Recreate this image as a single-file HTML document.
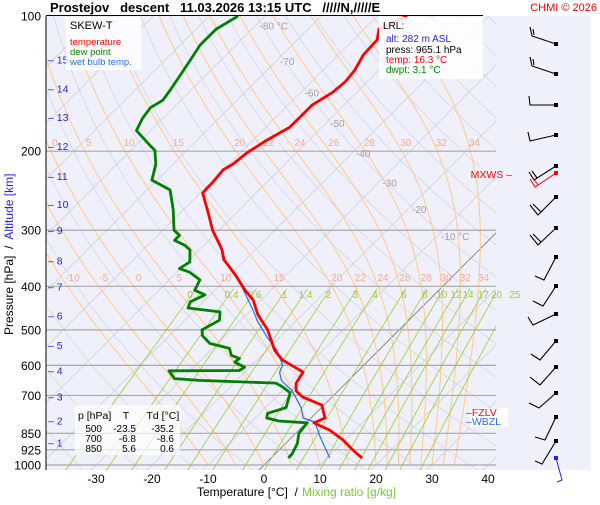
<!DOCTYPE html>
<html><head><meta charset="utf-8"><style>
body{margin:0;background:#fff;width:600px;height:500px;overflow:hidden;font-family:"Liberation Sans",sans-serif}
svg text{font-family:"Liberation Sans",sans-serif}
</style></head><body>
<svg id="chart" width="600" height="500" xmlns="http://www.w3.org/2000/svg">
<rect x="46" y="16" width="545" height="454" fill="#f0f0fb"/>
<defs><clipPath id="clip"><rect x="46" y="16" width="450" height="454"/></clipPath></defs>
<g id="grid" clip-path="url(#clip)"></g>
<g id="labels"></g>
<g id="series" clip-path="url(#clip)"></g>
<g id="barbs"></g>
<line x1="46" y1="16" x2="46" y2="470" stroke="#000"/>
<line x1="46" y1="15.5" x2="483" y2="15.5" stroke="#000"/>
<text x="50" y="12" font-size="13" font-weight="bold">Prostejov&#160;&#160; descent&#160;&#160; 11.03.2026 13:15 UTC&#160;&#160; /////N,/////E</text>
<text x="597" y="11" font-size="11" fill="#e00" text-anchor="end">CHMI © 2026</text>
<g>
<rect x="66" y="17" width="75" height="53" fill="#fff" opacity="0.8"/>
<text x="70" y="29" font-size="11">SKEW-T</text>
<text x="70" y="45" font-size="9.5" fill="#f00">temperature</text>
<text x="70" y="55" font-size="9.5" fill="#080">dew point</text>
<text x="70" y="65" font-size="9.5" fill="#2a6cf0">wet bulb temp.</text>
</g>
<g>
<rect x="379" y="17" width="104" height="62" fill="#fff" opacity="0.85"/>
<text x="383" y="29" font-size="10">LRL:</text>
<text x="386" y="42" font-size="10" fill="#22d">alt: 282 m ASL</text>
<text x="386" y="53" font-size="10">press: 965.1 hPa</text>
<text x="386" y="63" font-size="10" fill="#f00">temp: 16.3 °C</text>
<text x="386" y="73" font-size="10" fill="#080">dwpt: 3.1 °C</text>
</g>
<g>
<rect x="75" y="405" width="105" height="50" fill="#fff" opacity="0.7"/>
<text x="78" y="419" font-size="10.5">p [hPa]&#160;&#160;&#160; T&#160;&#160;&#160;&#160;&#160; Td [°C]</text>
<text x="102" y="432" font-size="10" text-anchor="end">500</text><text x="136" y="432" font-size="10" text-anchor="end">-23.5</text><text x="174" y="432" font-size="10" text-anchor="end">-35.2</text>
<text x="102" y="442" font-size="10" text-anchor="end">700</text><text x="136" y="442" font-size="10" text-anchor="end">-6.8</text><text x="174" y="442" font-size="10" text-anchor="end">-8.6</text>
<text x="102" y="452" font-size="10" text-anchor="end">850</text><text x="136" y="452" font-size="10" text-anchor="end">5.6</text><text x="174" y="452" font-size="10" text-anchor="end">0.6</text>
</g>
<g>
<rect x="470" y="408" width="38" height="19" fill="#fff"/>
<text x="466" y="416" font-size="10.5" fill="#f00">–FZLV</text>
<text x="466" y="425" font-size="10.5" fill="#2a6cf0">–WBZL</text>
</g>
<text x="512" y="178" font-size="10.5" fill="#f00" text-anchor="end">MXWS –</text>
<text x="197" y="496" font-size="12">Temperature [°C]&#160; /</text>
<text x="302" y="496" font-size="12" fill="#7c3">Mixing ratio [g/kg]</text>
<text transform="translate(13,335) rotate(-90)" font-size="12">Pressure [hPa]&#160; /&#160; <tspan fill="#22d">Altitude [km]</tspan></text>
<script>
const tempP=[965,926,879,836,806,786,735,706,684,657,621,584,555,500,463,429,408,377,349,332,324,300,270,248,242,236,220,214,202,189,177,168,158,148,140,132,122,113,107,100];
const tempT=[16.3,13.2,9.6,5.5,1.4,2.5,-0.4,-5.2,-7.5,-8.9,-9.6,-15.4,-18.6,-23.5,-27.9,-31.4,-34.6,-39.1,-43.8,-45.9,-47.1,-51.1,-55.7,-59.5,-59.6,-59.6,-60,-59.3,-58.8,-57.5,-55.7,-55.7,-55.7,-54.3,-53.9,-54.3,-55.5,-55.7,-57.3,-54.6];
const dewP=[965,942,895,851,806,798,786,767,745,691,671,657,648,642,617,616,606,590,579,570,550,536,515,500,476,456,447,433,418,408,387,372,365,353,332,324,316,308,300,270,257,244,232,214,199,194,180,169,160,154,145,135,125,116,107,100];
const dewT=[3.1,3.0,2.1,0.6,0.2,-5.2,-7.9,-8.6,-6.3,-8.2,-10.5,-12.5,-26.6,-31.4,-33.8,-21.3,-20.9,-23.6,-23.4,-25.4,-27,-31.4,-34.1,-35.2,-33.8,-35.2,-41.6,-42.3,-40.9,-43.6,-44.5,-47.7,-50.2,-49.5,-51.6,-53.4,-56.1,-56.1,-58,-61.8,-63.8,-65.9,-70.9,-73,-75.7,-77.5,-82.5,-83.6,-84.1,-83.2,-83.8,-84.6,-85.5,-86.4,-86.4,-84.8];
const wbP=[965,942,866,802,786,745,684,648,621,599,555,519,476,452,381,349,332,324,300,270,248,242,236,220,214,202,189,177,168,158,148,140,132,122,113,107,100];
const wbT=[10.5,9.3,5.0,1.4,-1.4,-3.6,-8.2,-12,-13.8,-14.5,-18.2,-22.3,-27.1,-29.6,-38.4,-44.0,-46.0,-47.2,-51.2,-55.8,-59.6,-59.7,-59.7,-60.1,-59.4,-58.9,-57.6,-55.8,-55.8,-55.8,-54.4,-54.0,-54.4,-55.6,-55.8,-57.4,-54.7];
const pressTicks=[100,200,300,400,500,600,700,850,925,1000];
const tempTicks=[-30,-20,-10,0,10,20,30,40];
const altKm=[1,2,3,4,5,6,7,8,9,10,11,12,13,14,15];
const altP=[890,795,703,616,540,465,400,350,300,262,227,195,168,145,125];
const isoLabels=[-80,-70,-60,-50,-40,-30,-20,-10];
const isoLabelP=[105,126,148,173,202,235,269,309];
const moistThetaW=[-10,-5,0,5,10,15,20,22,24,26,28,30,32,34];
const mixRatios=[0.2,0.4,0.6,1,1.4,2,3,4,6,8,10,12,14,17,20,25];

const NS="http://www.w3.org/2000/svg";
const yP=p=>16+195*Math.log(p/100);
const xT=(t,p)=>264+5.6*t+(465-yP(p));
function mk(tag,attrs,parent){const e=document.createElementNS(NS,tag);for(const k in attrs)e.setAttribute(k,attrs[k]);parent.appendChild(e);return e;}
const grid=document.getElementById('grid'),labels=document.getElementById('labels'),series=document.getElementById('series'),barbs=document.getElementById('barbs');
function pathFrom(ps,ts){return ps.map((p,i)=>(i?'L':'M')+xT(ts[i],p).toFixed(1)+','+yP(p).toFixed(1)).join('');}
for(let th=180;th<=480;th+=10){const ps=[],ts=[];for(let p=1050;p>=95;p-=10){ps.push(p);ts.push(th*Math.pow(p/1000,0.2857)-273.15);}
 const e=mk('path',{d:pathFrom(ps,ts),fill:'none',stroke:'#d6d6e0','stroke-width':0.8},grid);
 
 }
for(let t=-130;t<=50;t+=10){const e=mk('path',{d:pathFrom([1050,95],[t,t]),stroke:t===0?'#777':'#d0d0d8','stroke-width':0.8},grid);
 
 }
const es=t=>6.112*Math.exp(17.67*t/(t+243.5));
const moistX200=[],moistX400=[];
moistThetaW.forEach(tw=>{let T=tw+273.15,ps=[1000],ts=[tw];for(let p=1000;p>100;p-=2){const tc=T-273.15,e=es(tc),rs=0.622*e/(p-e);const num=287*T+2.5e6*rs,den=1005+2.5e6*2.5e6*rs*0.622/(287*T*T);T+=(num/den)/p*(-2);ps.push(p-2);ts.push(T-273.15);}
 const e=mk('path',{d:pathFrom(ps,ts),fill:'none',stroke:'#ffc98a','stroke-width':1},grid);
 
 
 const i2=ps.findIndex(p=>p<=200),i4=ps.findIndex(p=>p<=400);
 moistX200.push(xT(ts[i2],200)+4);moistX400.push(xT(ts[i4],400)+5);});
moistThetaW.forEach((tw,i)=>{[[moistX200[i],146],[moistX400[i],281]].forEach(([x,y])=>{if(x>48&&x<495&&!(y==146&&tw<0)){const t=mk('text',{x:x,y:y,'font-size':10,fill:'#f7a98c','text-anchor':'middle'},labels);t.textContent=tw;
 
 }});});
mixRatios.forEach(w=>{const ps=[],ts=[];for(let p=1050;p>=405;p-=15){const e=w*p/(622+w),l=Math.log(e/6.112);ps.push(p);ts.push(243.5*l/(17.67-l));}
 const el=mk('path',{d:pathFrom(ps,ts),fill:'none',stroke:'#9c3','stroke-width':0.8},grid);
 
 
 const t=mk('text',{x:xT(ts[ts.length-1],405)-2,y:298,'font-size':10,fill:'#9c3','text-anchor':'middle'},labels);t.textContent=w;
 
 });
pressTicks.forEach(p=>{const y=yP(p);if(p>100){const l=mk('line',{x1:46,x2:496,y1:y,y2:y,stroke:'#a8a8a8','stroke-width':1.2},labels);
 
 }
 const t=mk('text',{x:41,y:y+4.5,'font-size':12,'text-anchor':'end'},labels);t.textContent=p;
 
 });
altKm.forEach((k,i)=>{const y=yP(altP[i]);const t=mk('text',{x:48,y:y+4,'font-size':10.5,fill:'#22d'},labels);t.textContent='– '+k;
 
 });
tempTicks.forEach(t0=>{const t=mk('text',{x:xT(t0,1000),y:483,'font-size':12,'text-anchor':'middle'},labels);t.textContent=t0;
 
 });
isoLabels.forEach((v,i)=>{const t=mk('text',{x:xT(v,isoLabelP[i])+4,y:yP(isoLabelP[i])+4,'font-size':10,fill:'#a0a0a0'},labels);t.textContent=(v===-80||v===-10)?v+' °C':v;
 
 });
let s=mk('path',{d:pathFrom(wbP,wbT),fill:'none',stroke:'#2a6cf0','stroke-width':1.2},series);


s=mk('path',{d:pathFrom(dewP,dewT),fill:'none',stroke:'#008000','stroke-width':2.8,'stroke-linejoin':'round'},series);


s=mk('path',{d:pathFrom(tempP,tempT),fill:'none',stroke:'#f00','stroke-width':2.8,'stroke-linejoin':'round'},series);


const barbShapes=["556,44 532,36 530,27 M534,35 533,29","556,74 532,66 530,57 M534,65 533,59","556,105 530,105 529,96","556,135 530,141 528,132","556,166 534,180 529,172 M537,178 532,171","556,197 538,215 530,205 M541,212 533,204","556,228 538,245 530,235 M541,242 533,234","556,257 544,280 535,276","556,286 543,306 533,301","556,314 533,325 528,317","556,341 540,360 531,354","556,367 540,385 530,377","556,393 539,408 529,403","556,417 545,440 535,437","556,441 542,464 535,461"];
barbShapes.forEach(sh=>{const parts=sh.split(' M');let d='M'+parts.map(q=>q.trim().split(' ').join(' L')).join(' M');
 const b=mk('path',{d:d,fill:'none',stroke:'#000','stroke-width':1.1},barbs);
 
 
 const f=parts[0].split(' ')[0].split(',');mk('rect',{x:f[0]-2,y:f[1]-2,width:4,height:4,fill:'#000'},barbs);});
let r=mk('path',{d:'M556,173 L535,187 L530,179 M538,185 L533,178',fill:'none',stroke:'#f00','stroke-width':1},barbs);


mk('rect',{x:554,y:171,width:4,height:4,fill:'#f00'},barbs);
r=mk('path',{d:'M556,458 L562,480 L557,482',fill:'none',stroke:'#22d','stroke-width':1},barbs);


mk('rect',{x:554,y:456,width:4,height:4,fill:'#22d'},barbs);
</script>
</svg>
</body></html>
